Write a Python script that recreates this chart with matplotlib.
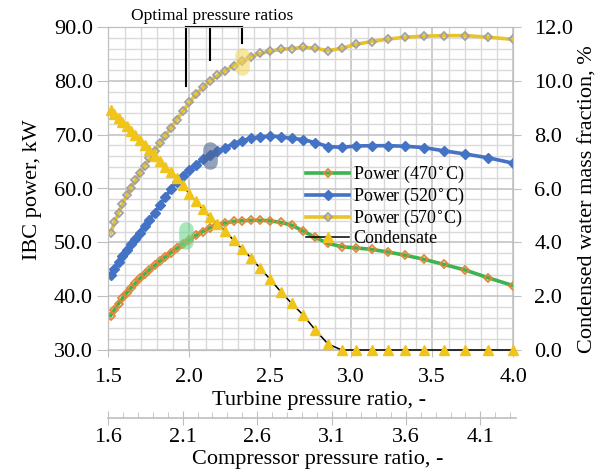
import matplotlib
matplotlib.use("Agg")
import matplotlib.pyplot as plt
from matplotlib.ticker import MultipleLocator, FormatStrFormatter

plt.rcParams["font.family"] = ["Liberation Serif", "DejaVu Serif"]

# Turbine pressure ratio (sample points)
turbine_ratio = [1.515, 1.538, 1.563, 1.587, 1.613, 1.639, 1.667, 1.695, 1.724, 1.754,
                 1.786, 1.818, 1.852, 1.887, 1.923, 1.961, 2.000, 2.041, 2.083, 2.128,
                 2.174, 2.222, 2.273, 2.326, 2.381, 2.439, 2.500, 2.564, 2.632, 2.703,
                 2.778, 2.857, 2.941, 3.030, 3.125, 3.226, 3.333, 3.448, 3.571, 3.704,
                 3.846, 4.000]

# IBC power, kW
power_470 = [36.4, 37.5, 38.6, 39.6, 40.6, 41.5, 42.4, 43.3, 44.1, 44.9,
             45.7, 46.5, 47.3, 48.1, 48.9, 49.7, 50.5, 51.3, 52.0, 52.7,
             53.2, 53.6, 53.9, 54.0, 54.1, 54.1, 54.0, 53.7, 53.2, 52.1,
             50.9, 49.8, 49.2, 48.95, 48.7, 48.2, 47.6, 46.85, 45.9, 44.85,
             43.4, 41.95]
power_520 = [44.0, 45.1, 46.3, 47.4, 48.5, 49.6, 50.7, 51.8, 53.0, 54.2,
             55.5, 56.9, 58.4, 59.9, 61.3, 62.4, 63.4, 64.4, 65.4, 66.2,
             66.9, 67.6, 68.3, 68.9, 69.3, 69.6, 69.75, 69.6, 69.3, 69.1,
             68.5, 67.8, 67.65, 67.9, 67.95, 67.95, 67.85, 67.6, 67.0, 66.4,
             65.7, 64.7]
power_570 = [51.8, 53.7, 55.5, 57.1, 58.7, 60.1, 61.5, 62.9, 64.2, 65.6,
             67.0, 68.4, 69.8, 71.3, 72.8, 74.4, 76.0, 77.5, 78.8, 80.0,
             81.0, 81.9, 82.8, 83.6, 84.5, 85.1, 85.5, 85.85, 86.0, 86.2,
             86.05, 85.6, 86.05, 86.8, 87.3, 87.75, 88.1, 88.3, 88.4, 88.4,
             88.1, 87.7]

# Condensed water mass fraction, %
condensate = [8.92, 8.78, 8.62, 8.47, 8.31, 8.14, 7.97, 7.79, 7.61, 7.42,
              7.22, 7.02, 6.81, 6.60, 6.38, 6.12, 5.80, 5.52, 5.22, 4.95,
              4.68, 4.42, 4.08, 3.76, 3.42, 3.03, 2.62, 2.17, 1.73, 1.30,
              0.74, 0.22, 0.0, 0.0, 0.0, 0.0, 0.0, 0.0, 0.0, 0.0,
              0.0, 0.0]

# Optimal points (turbine ratio, power) for 470 / 520 / 570 C
opt_ratio = [1.98, 2.128, 2.328]
opt_power = [51.3, 66.2, 83.55]

compressor_ticks = [1.6, 2.1, 2.6, 3.1, 3.6, 4.1]

W, H = 608, 473
fig = plt.figure(figsize=(W / 100, H / 100), dpi=100)


def fx(px):
    return px / W


def fy(py):
    return 1 - py / H


ax = fig.add_axes([fx(108.3), fy(350), fx(513.3) - fx(108.3), fy(27) - fy(350)])
ax.set_xlim(1.5, 4.0)
ax.set_ylim(30, 90)
ax.xaxis.set_major_locator(MultipleLocator(0.5))
ax.xaxis.set_minor_locator(MultipleLocator(0.1))
ax.yaxis.set_major_locator(MultipleLocator(10))
ax.yaxis.set_minor_locator(MultipleLocator(2))
ax.xaxis.set_major_formatter(FormatStrFormatter("%.1f"))
ax.yaxis.set_major_formatter(FormatStrFormatter("%.1f"))
ax.grid(which="minor", color="#d9d9d9", lw=1.0, zorder=0)
ax.grid(which="major", color="#bfbfbf", lw=1.1, zorder=0)
ax.set_axisbelow(True)
for s in ax.spines.values():
    s.set_color("#bfbfbf")
ax.tick_params(which="major", axis="y", length=8, color="#bfbfbf", labelsize=16, pad=3)
ax.tick_params(which="major", axis="x", length=5, color="#bfbfbf", labelsize=16, pad=8)
ax.tick_params(which="minor", length=0)

# optimum highlights
blob_colors = ["#6fd68f", "#4d6594", "#f2d760"]
for xr, yp, c in zip(opt_ratio, opt_power, blob_colors):
    ax.plot([xr, xr], [yp - 1.2, yp + 1.2], color=c, lw=10.5, alpha=0.6,
            solid_capstyle="round", zorder=5)

l470, = ax.plot(turbine_ratio, power_470, color="#3cb44f", lw=2.6, marker="D", ms=4.2,
                mfc="none", mec="#e0883a", mew=1.3, zorder=3, label="Power (470$^{\\circ}$C)")
l520, = ax.plot(turbine_ratio, power_520, color="#4472c4", lw=2.6, marker="D", ms=5,
                mfc="#4472c4", mec="#4472c4", zorder=3, label="Power (520$^{\\circ}$C)")
l570, = ax.plot(turbine_ratio, power_570, color="#e8c32a", lw=2.6, marker="D", ms=4.2,
                mfc="none", mec="#a0a0a0", mew=1.3, zorder=3, label="Power (570$^{\\circ}$C)")

# optimal pressure ratio bracket
bracket_low = [79.0, 83.9, 87.1]
ax.plot([opt_ratio[0], opt_ratio[2]], [90, 90], color="black", lw=1.5, clip_on=False, zorder=6)
for xr, yl in zip(opt_ratio, bracket_low):
    ax.plot([xr, xr], [90, yl], color="black", lw=1.5, clip_on=False, zorder=6)
fig.text(fx(212), fy(16), "Optimal pressure ratios", ha="center", va="center", fontsize=12.5)

axr = ax.twinx()
axr.set_ylim(0, 12)
axr.yaxis.set_major_locator(MultipleLocator(2))
axr.yaxis.set_major_formatter(FormatStrFormatter("%.1f"))
axr.tick_params(axis="y", length=6, color="#bfbfbf", labelsize=16, pad=9)
for s in axr.spines.values():
    s.set_color("#bfbfbf")
lcond, = axr.plot(turbine_ratio, condensate, color="black", lw=1.1, marker="^", ms=6.5,
                  mfc="#f0c419", mec="#f0c419", zorder=4, clip_on=False, label="Condensate")

leg = axr.legend(handles=[l470, l520, l570, lcond], loc="upper left",
                 bbox_to_anchor=(fx(306), fy(164)), bbox_transform=fig.transFigure,
                 frameon=False, fontsize=13, handlelength=2.4, handletextpad=0.2,
                 labelspacing=0.05, borderpad=0, borderaxespad=0)

# compressor pressure ratio axis
axc = fig.add_axes([fx(108.3), fy(418), fx(516) - fx(108.3), 0.0001])
axc.set_xlim(1.6, 1.6 + (516 - 108.3) / 148.8)
axc.set_xticks(compressor_ticks)
axc.xaxis.set_minor_locator(MultipleLocator(0.1))
axc.xaxis.set_major_formatter(FormatStrFormatter("%.1f"))
axc.set_yticks([])
axc.patch.set_visible(False)
for k in ["top", "left", "right"]:
    axc.spines[k].set_visible(False)
axc.spines["bottom"].set_color("#bfbfbf")
axc.spines["bottom"].set_linewidth(1.2)
axc.tick_params(axis="x", which="major", direction="inout", length=10, color="#bfbfbf",
                labelsize=16, pad=2)
axc.tick_params(axis="x", which="minor", direction="in", length=4, color="#bfbfbf")

fig.text(fx(319), fy(400), "Turbine pressure ratio, -", ha="center", va="center", fontsize=16)
fig.text(fx(318), fy(459), "Compressor pressure ratio, -", ha="center", va="center", fontsize=16)
fig.text(fx(33), fy(190), "IBC power, kW", ha="center", va="center", rotation=90, fontsize=16)
fig.text(fx(588), fy(199), "Condensed water mass fraction, %", ha="center", va="center",
         rotation=90, fontsize=16)

fig.savefig("out.png", dpi=100)
